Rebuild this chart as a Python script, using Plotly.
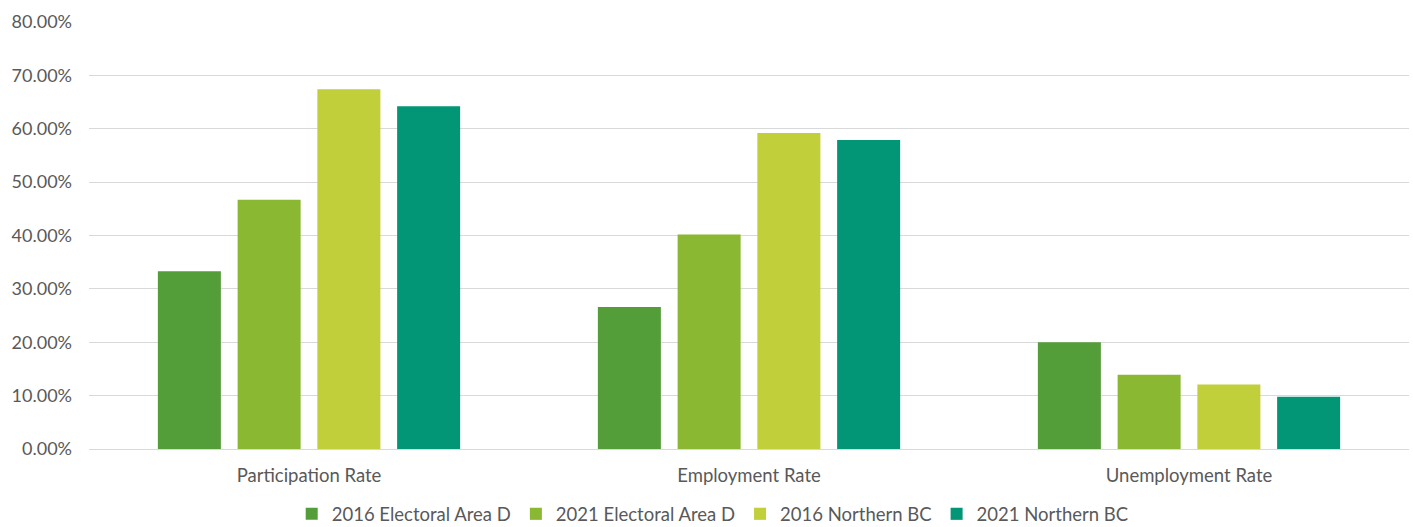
import plotly.graph_objects as go

categories = ["Participation Rate", "Employment Rate", "Unemployment Rate"]
series_names = ["2016 Electoral Area D", "2021 Electoral Area D", "2016 Northern BC", "2021 Northern BC"]
ea_d_2016 = [0.333, 0.266, 0.200]
ea_d_2021 = [0.467, 0.402, 0.139]
nbc_2016 = [0.674, 0.592, 0.121]
nbc_2021 = [0.642, 0.579, 0.098]
tick_vals = [0, 0.1, 0.2, 0.3, 0.4, 0.5, 0.6, 0.7, 0.8]

colors = ["#549E39", "#8AB833", "#C0CF3A", "#029676"]
values = [ea_d_2016, ea_d_2021, nbc_2016, nbc_2021]

fig = go.Figure()
for name, vals, col in zip(series_names, values, colors):
    fig.add_trace(go.Bar(x=categories, y=vals, name=name, marker_color=col,
                         marker_line_width=0))

font_family = "Lato, 'Open Sans', sans-serif"
fig.update_layout(
    width=1413, height=527,
    margin=dict(l=89, r=4, t=22, b=78, autoexpand=False),
    paper_bgcolor="white", plot_bgcolor="white",
    barmode="group", bargap=0.275, bargroupgap=0.21,
    font=dict(family=font_family, size=18, color="#595959"),
    showlegend=True,
    legend=dict(orientation="h", x=0.4725, xanchor="center", y=-0.153, yanchor="middle",
                font=dict(size=18.5, color="#595959"), traceorder="normal",
                itemwidth=30),
    yaxis=dict(range=[0, 0.8], tickvals=tick_vals, tickformat=".2%",
               showgrid=True, gridcolor="#D9D9D9", gridwidth=1, zeroline=False,
               showline=False, ticks="", ticklen=0, automargin=False,
               ticklabelstandoff=16,
               tickfont=dict(size=18, color="#595959")),
    xaxis=dict(showgrid=False, showline=True, linecolor="#D9D9D9", linewidth=1,
               ticks="", automargin=False, ticklabelstandoff=10,
               tickfont=dict(size=18.5, color="#595959")),
)

fig.write_html("out.html", config={"displayModeBar": False},
               post_script="document.body.style.margin='0';")
